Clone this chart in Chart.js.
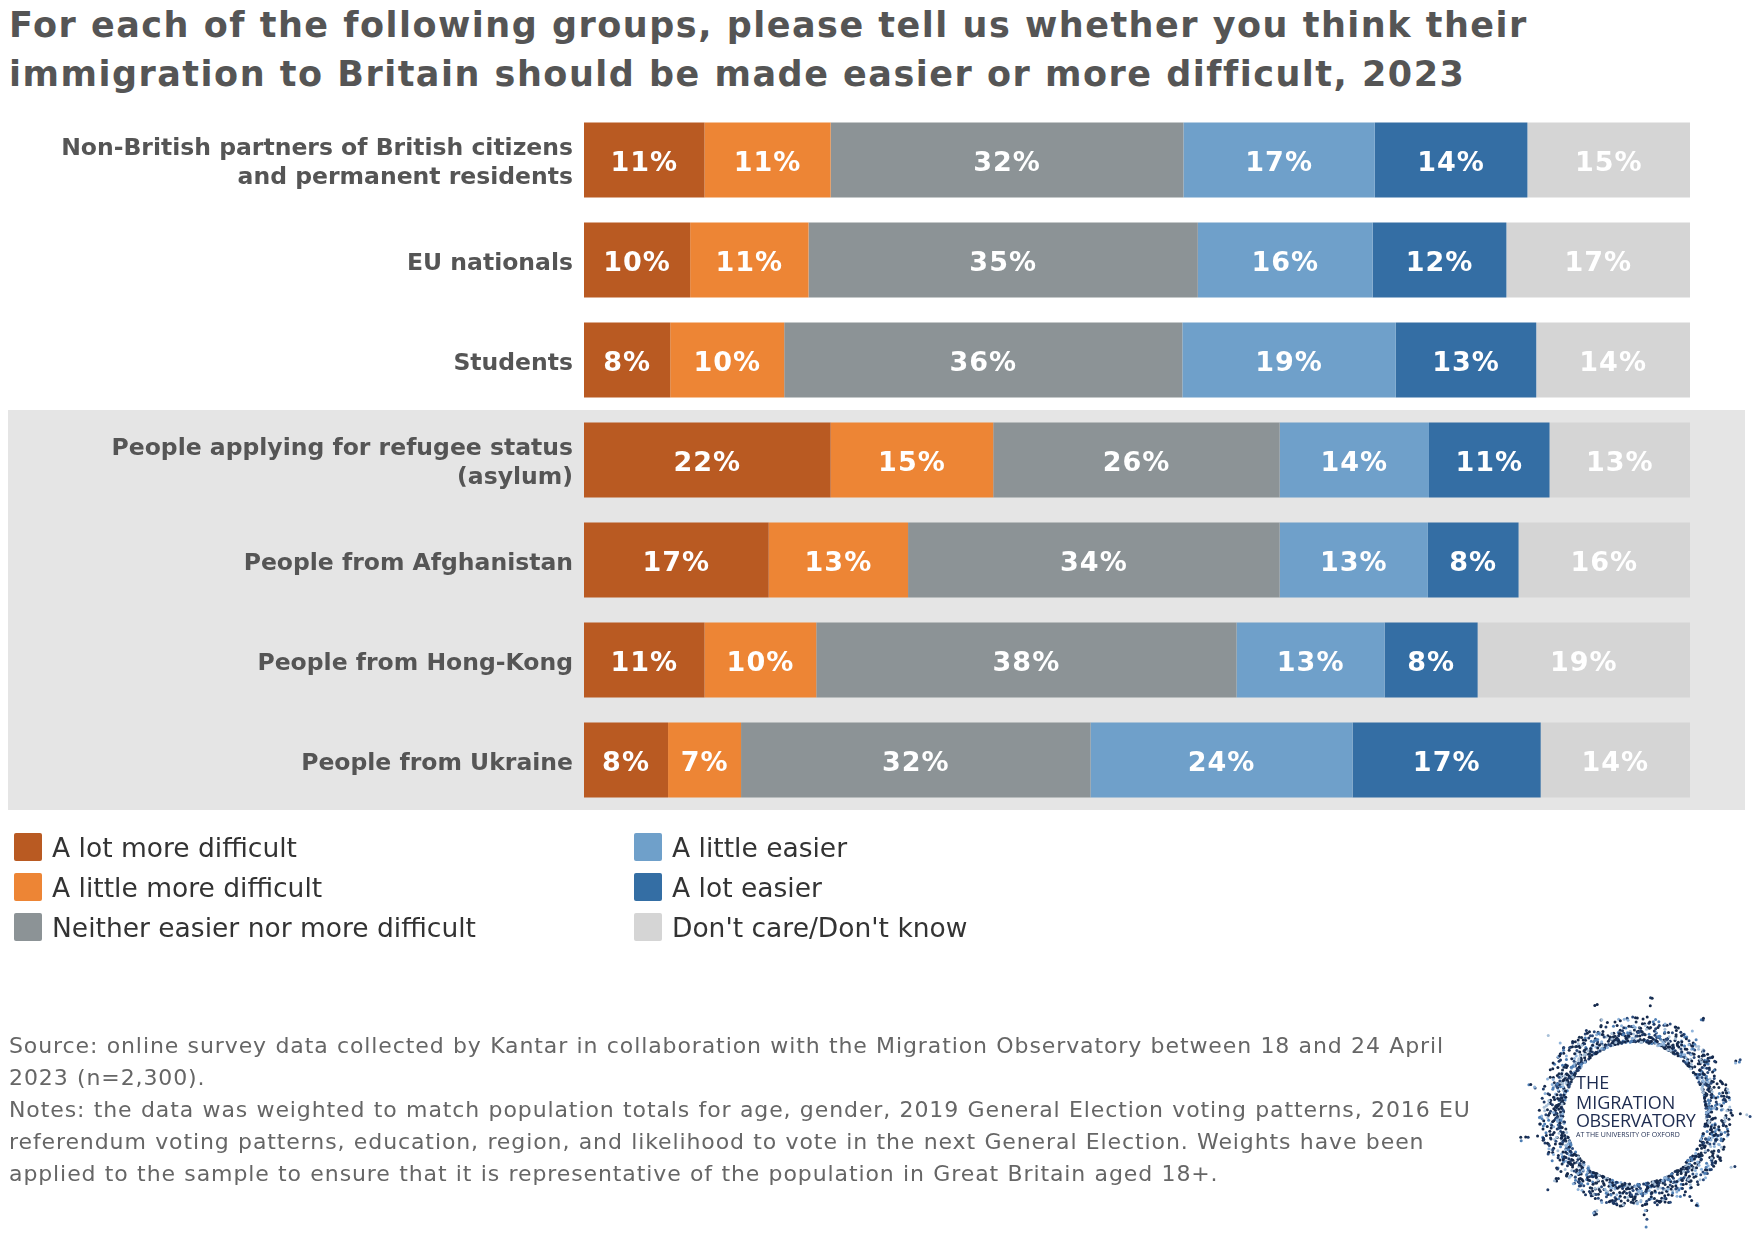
<!DOCTYPE html>
<html lang="en">
<head>
  <meta charset="UTF-8">
  <title>Immigration to Britain: easier or more difficult, 2023</title>
  <script src="https://cdn.jsdelivr.net/npm/chart.js"></script>
  <style>
    body { margin: 0; background: #fff; width: 1762px; height: 1236px; position: relative; overflow: hidden; font-family: "DejaVu Sans", Verdana, sans-serif; }
    #chart { position: absolute; left: 0; top: 0; }
    .title { position: absolute; left: 9px; top: 1px; font-size: 35px; letter-spacing: 1.5px; line-height: 49px; font-weight: bold; color: #555; white-space: nowrap; }
    .legend-item { position: absolute; display: flex; align-items: center; font-size: 26.5px; color: #333; white-space: nowrap; height: 28px; }
    .legend-item span.sw { width: 28px; height: 28px; border-radius: 2px; margin-right: 10px; display: inline-block; }
    .footer { position: absolute; left: 9px; top: 1030px; font-size: 22px; letter-spacing: 0.9px; word-spacing: 0.5px; line-height: 32px; color: #666; white-space: nowrap; }
    #logo { position: absolute; left: 1515px; top: 993px; }
    .logo-t { position: absolute; left: 1576px; font-family: "Open Sans", sans-serif; color: #1d2b4f; line-height: 1; white-space: nowrap; }
  </style>
</head>
<body>
  <div class="title">For each of the following groups, please tell us whether you think their<br>immigration to Britain should be made easier or more difficult, 2023</div>

  <canvas id="chart" width="1762" height="1236"></canvas>

  <div id="legend"></div>

  <div class="footer">Source: online survey data collected by Kantar in collaboration with the Migration Observatory between 18 and 24 April<br>2023 (n=2,300).<br>Notes: the data was weighted to match population totals for age, gender, 2019 General Election voting patterns, 2016 EU<br>referendum voting patterns, education, region, and likelihood to vote in the next General Election. Weights have been<br>applied to the sample to ensure that it is representative of the population in Great Britain aged 18+.</div>

  <canvas id="logo" width="240" height="240"></canvas>
  <div class="logo-t" style="top:1073px;font-size:18px;">THE</div>
  <div class="logo-t" style="top:1093px;font-size:18px;">MIGRATION</div>
  <div class="logo-t" style="top:1111px;font-size:18px;letter-spacing:-0.4px;">OBSERVATORY</div>
  <div class="logo-t" style="top:1131px;font-size:7px;">AT THE UNIVERSITY OF OXFORD</div>

  <script>
    // groups (y categories)
    const groups = [
      ["Non-British partners of British citizens", "and permanent residents"],
      "EU nationals",
      "Students",
      ["People applying for refugee status", "(asylum)"],
      "People from Afghanistan",
      "People from Hong-Kong",
      "People from Ukraine"
    ];

    // answer shares (%), one array per answer
    const lotMoreDifficult    = [10.9,  9.6,  7.8, 22.3, 16.7, 10.9,  7.6];
    const littleMoreDifficult = [11.4, 10.7, 10.3, 14.7, 12.6, 10.1,  6.6];
    const neither             = [31.9, 35.2, 36.0, 25.9, 33.6, 38.0, 31.6];
    const littleEasier        = [17.3, 15.8, 19.3, 13.5, 13.4, 13.4, 23.7];
    const lotEasier           = [13.8, 12.1, 12.7, 10.9,  8.2,  8.4, 17.0];
    const dontKnow            = [14.7, 16.6, 13.9, 12.7, 15.5, 19.2, 13.5];

    const answers = ["A lot more difficult", "A little more difficult", "Neither easier nor more difficult",
                     "A little easier", "A lot easier", "Don't care/Don't know"];
    const colors = ["#b95a22", "#ed8535", "#8c9396", "#6fa0ca", "#346ea4", "#d5d5d5"];
    const series = [lotMoreDifficult, littleMoreDifficult, neither, littleEasier, lotEasier, dontKnow];

    // grey band behind the last four groups
    const bandPlugin = {
      id: "band",
      beforeDraw(chart) {
        const y = chart.scales.y;
        const step = y.getPixelForValue(1) - y.getPixelForValue(0);
        const top = y.getPixelForValue(3) - step / 2;
        const bottom = y.getPixelForValue(6) + step / 2;
        const ctx = chart.ctx;
        ctx.save();
        ctx.fillStyle = "#e5e5e5";
        ctx.fillRect(8, top, 1737, bottom - top);
        ctx.restore();
      }
    };

    // white % labels in the middle of each segment
    const barLabels = {
      id: "barLabels",
      afterDatasetsDraw(chart) {
        const ctx = chart.ctx;
        ctx.save();
        ctx.font = 'bold 27px "DejaVu Sans"';
        ctx.letterSpacing = "1px";
        ctx.fillStyle = "#ffffff";
        ctx.textAlign = "center";
        ctx.textBaseline = "alphabetic";
        chart.data.datasets.forEach((ds, i) => {
          chart.getDatasetMeta(i).data.forEach((bar, j) => {
            const x = (bar.x + bar.base) / 2;
            ctx.fillText(Math.round(ds.data[j]) + "%", x, bar.y + 11);
          });
        });
        ctx.restore();
      }
    };

    const chart = new Chart(document.getElementById("chart"), {
      type: "bar",
      data: {
        labels: groups,
        datasets: series.map((d, i) => ({
          label: answers[i],
          data: d,
          backgroundColor: colors[i],
          borderWidth: 0,
          barPercentage: 1,
          categoryPercentage: 0.75
        }))
      },
      options: {
        indexAxis: "y",
        responsive: false,
        animation: false,
        devicePixelRatio: 1,
        layout: { padding: { left: 0, right: 72, top: 110, bottom: 426 } },
        plugins: {
          legend: { display: false },
          tooltip: { enabled: false },
          title: { display: false }
        },
        scales: {
          x: { stacked: true, min: 0, max: 100, display: false },
          y: {
            stacked: true,
            grid: { display: false, drawTicks: false },
            border: { display: false },
            ticks: {
              autoSkip: false,
              padding: 11,
              labelOffset: 3.5,
              color: "#555",
              font: { family: "DejaVu Sans", size: 23.5, weight: "bold", lineHeight: 1.23 }
            },
            afterFit(scale) { scale.width = 584; }
          }
        }
      },
      plugins: [bandPlugin, barLabels]
    });

    // legend in two columns
    const legend = document.getElementById("legend");
    answers.forEach((a, i) => {
      const item = document.createElement("div");
      item.className = "legend-item";
      item.style.left = (i < 3 ? 14 : 634) + "px";
      item.style.top = (833 + (i % 3) * 40) + "px";
      item.innerHTML = `<span class="sw" style="background:${colors[i]}"></span>${a}`;
      legend.appendChild(item);
    });

    // logo ring of dots
    const lc = document.getElementById("logo").getContext("2d");
    const dotColors = ["#14284b", "#1f3a66", "#14284b", "#4f7fb5", "#8fb3da", "#2b4a7a", "#14284b", "#a8c0d8", "#1a3050"];
    function frac(v) { return v - Math.floor(v); }
    for (let i = 0; i < 1700; i++) {
      const ang = i * 2.399963;
      const h = frac(Math.sin(i * 12.9898) * 43758.5453);
      let r = 71 + 25 * Math.pow(h, 1.6);
      if (i % 29 === 0) r = 96 + 22 * frac(Math.sin(i * 7.13) * 9631.7);
      lc.fillStyle = dotColors[i % dotColors.length];
      lc.beginPath();
      lc.arc(120 + r * Math.cos(ang), 120 + r * Math.sin(ang), 1.5, 0, Math.PI * 2);
      lc.fill();
    }
  </script>
</body>
</html>
